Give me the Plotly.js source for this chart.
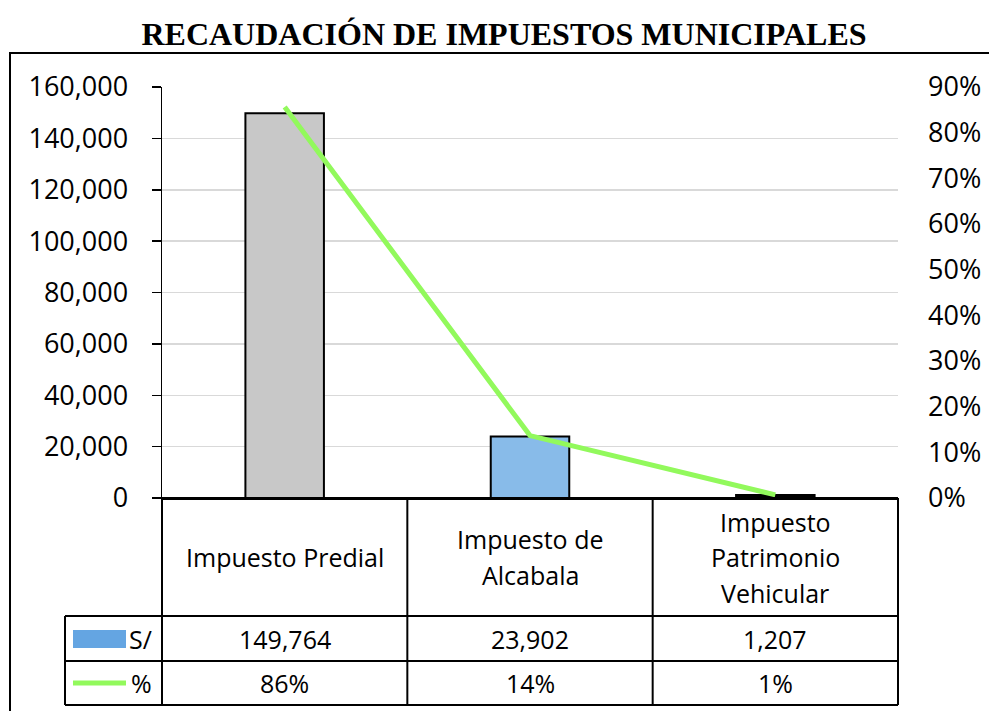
<!DOCTYPE html>
<html>
<head>
<meta charset="utf-8">
<script src="https://cdn.plot.ly/plotly-3.0.1.min.js"></script>
<style>html,body{margin:0;padding:0;background:#fff;}#chart{width:989px;height:711px;}</style>
</head>
<body>
<div id="chart"></div>
<script>
// ---- data ----
var chartTitle = "RECAUDACIÓN DE IMPUESTOS MUNICIPALES";
var categories = ["Impuesto Predial", "Impuesto de<br>Alcabala", "Impuesto<br>Patrimonio<br>Vehicular"];
var montos = [149764, 23902, 1207];           // S/
var porcentajes = [0.8564, 0.1367, 0.0069];   // %
var montoLabels = ["149,764", "23,902", "1,207"];
var pctLabels = ["86%", "14%", "1%"];
var seriesNames = ["S/", "%"];
var barColors = ["#c8c8c8", "#88bbe9", "#000000"];

// ---- layout helpers (pixel -> paper) ----
var W = 989, H = 711;
var L = 162, R = 898, T = 87, B = 498;
function px(x) { return (x - L) / (R - L); }
function py(y) { return (B - y) / (B - T); }

var idx = categories.map(function (_, i) { return i; });

var traces = [
  {
    type: "bar", x: idx, y: montos, name: seriesNames[0],
    marker: { color: barColors, line: { color: "#000", width: 2 } },
    hoverinfo: "y", yaxis: "y"
  },
  {
    type: "scatter", mode: "lines", x: idx, y: porcentajes, name: seriesNames[1],
    line: { color: "#92f95c", width: 5 }, yaxis: "y2"
  }
];

var fontFam = "Open Sans, sans-serif";
var shapes = [];
var annotations = [];
var bl = { color: "#000", width: 2 };

// outer chart border
shapes.push({ type: "rect", xref: "paper", yref: "paper", x0: px(10), x1: px(1000), y0: py(53), y1: py(730), line: bl, fillcolor: "rgba(0,0,0,0)" });

// data table: header row verticals
var rowTop = 498, rowHead = 616, rowS = 661, rowP = 705, legLeft = 65;
shapes.push({ type: "line", xref: "paper", yref: "paper", x0: 0, x1: 0, y0: py(rowTop), y1: py(rowP), line: bl });
shapes.push({ type: "line", xref: "paper", yref: "paper", x0: 1, x1: 1, y0: py(rowTop), y1: py(rowP), line: bl });
for (var i = 0; i < categories.length - 1; i++) {
  shapes.push({ type: "line", xref: "x", yref: "paper", x0: i + 0.5, x1: i + 0.5, y0: py(rowTop), y1: py(rowP), line: bl });
}
// horizontal lines
shapes.push({ type: "line", xref: "paper", yref: "paper", x0: 0, x1: 1, y0: py(rowTop), y1: py(rowTop), line: bl });
[rowHead, rowS, rowP].forEach(function (y) {
  shapes.push({ type: "line", xref: "paper", yref: "paper", x0: px(legLeft), x1: 1, y0: py(y), y1: py(y), line: bl });
});
shapes.push({ type: "line", xref: "paper", yref: "paper", x0: px(legLeft), x1: px(legLeft), y0: py(rowHead), y1: py(rowP), line: bl });

// legend keys
shapes.push({ type: "rect", xref: "paper", yref: "paper", x0: px(73), x1: px(126), y0: py(630), y1: py(648), line: { width: 0 }, fillcolor: "#64a5e2" });
shapes.push({ type: "line", xref: "paper", yref: "paper", x0: px(73), x1: px(126), y0: py(683), y1: py(683), line: { color: "#92f95c", width: 5 } });
annotations.push({ xref: "paper", yref: "paper", x: px(127), y: py(639), text: seriesNames[0], showarrow: false, xanchor: "left", yanchor: "middle", font: { family: fontFam, size: 25, color: "#000" } });
annotations.push({ xref: "paper", yref: "paper", x: px(129), y: py(683), text: seriesNames[1], showarrow: false, xanchor: "left", yanchor: "middle", font: { family: fontFam, size: 25, color: "#000" } });

// header labels (one annotation per line)
var headCenter = (rowTop + rowHead) / 2, lineGap = 35.5;
categories.forEach(function (c, i) {
  var lines = c.split("<br>");
  lines.forEach(function (t, j) {
    annotations.push({ xref: "x", yref: "paper", x: i, y: py(headCenter + (j - (lines.length - 1) / 2) * lineGap), text: t, showarrow: false, xanchor: "center", yanchor: "middle", font: { family: fontFam, size: 25, color: "#000" } });
  });
  annotations.push({ xref: "x", yref: "paper", x: i, y: py((rowHead + rowS) / 2), text: montoLabels[i], showarrow: false, xanchor: "center", yanchor: "middle", font: { family: fontFam, size: 25, color: "#000" } });
  annotations.push({ xref: "x", yref: "paper", x: i, y: py((rowS + rowP) / 2), text: pctLabels[i], showarrow: false, xanchor: "center", yanchor: "middle", font: { family: fontFam, size: 25, color: "#000" } });
});

var layout = {
  width: W, height: H,
  margin: { l: L, r: W - R, t: T, b: H - B, pad: 0 },
  paper_bgcolor: "#fff", plot_bgcolor: "#fff",
  showlegend: false,
  bargap: 0.68,
  title: { text: "<b>" + chartTitle + "</b>", x: 504 / W, xref: "container", xanchor: "center", y: 1 - 34 / H, yref: "container", yanchor: "middle", font: { family: "Liberation Serif, serif", size: 32, color: "#000" } },
  xaxis: { range: [-0.5, categories.length - 0.5], showticklabels: false, ticks: "", showgrid: false, zeroline: false, showline: true, linecolor: "#000", linewidth: 2, fixedrange: true },
  yaxis: { range: [0, 160000], dtick: 20000, tickformat: ",d", showgrid: true, gridcolor: "#d9d9d9", gridwidth: 1.5, zeroline: false, showline: true, linecolor: "#000", linewidth: 1.5, ticks: "outside", ticklen: 9, tickwidth: 1.5, tickcolor: "#000", ticklabelstandoff: 18, tickfont: { family: fontFam, size: 27, color: "#000" } },
  yaxis2: { overlaying: "y", side: "right", range: [0, 0.9], dtick: 0.1, tickformat: ".0%", showgrid: false, zeroline: false, showline: false, ticks: "", ticklabelstandoff: 29, tickfont: { family: fontFam, size: 27, color: "#000" } },
  shapes: shapes,
  annotations: annotations
};

Plotly.newPlot("chart", traces, layout, { displayModeBar: false, staticPlot: true });
</script>
</body>
</html>
